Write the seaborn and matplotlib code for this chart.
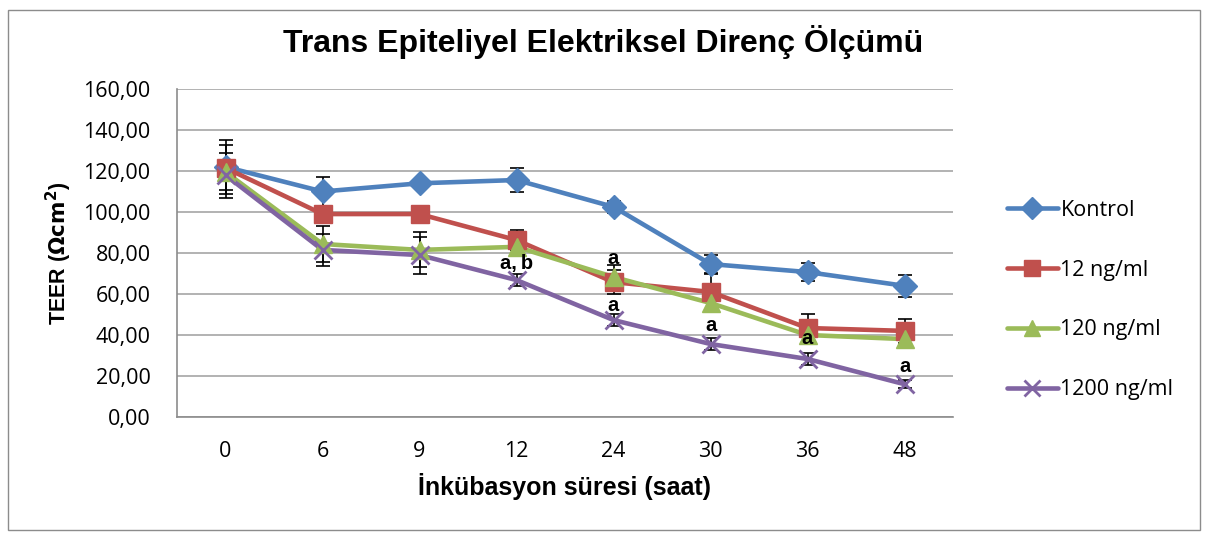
import numpy as np
import pandas as pd
import seaborn as sns
import matplotlib.pyplot as plt
from matplotlib.patches import Rectangle

# Incubation times (hours) and TEER readings per treatment group
hours = ["0", "6", "9", "12", "24", "30", "36", "48"]
groups = ["Kontrol", "12 ng/ml", "120 ng/ml", "1200 ng/ml"]

kontrol = [122.0, 110.0, 114.0, 115.6, 102.5, 74.6, 70.7, 64.0]
ng12 = [121.5, 99.0, 99.0, 86.3, 65.8, 61.0, 43.4, 42.0]
ng120 = [119.5, 84.4, 81.5, 83.0, 68.3, 55.6, 40.0, 38.0]
ng1200 = [118.0, 81.5, 79.0, 66.8, 47.3, 35.6, 28.3, 16.0]

kontrol_err = [13.0, 7.0, 0.0, 6.0, 3.0, 4.5, 4.5, 5.5]
ng12_err = [11.0, 0.0, 0.0, 5.0, 6.0, 9.0, 7.0, 6.0]
ng120_err = [0.0, 9.0, 8.5, 0.0, 6.0, 0.0, 0.0, 0.0]
ng1200_err = [11.0, 8.0, 9.0, 3.0, 3.0, 3.0, 3.0, 2.0]

# Significance letters: (time index, y value, text)
sig_pos = [3, 4, 4, 5, 6, 7]
sig_y = [75.0, 77.5, 54.5, 44.5, 38.5, 24.5]
sig_txt = ["a,\u2009b", "a", "a", "a", "a", "a"]

values = [kontrol, ng12, ng120, ng1200]
errors = [kontrol_err, ng12_err, ng120_err, ng1200_err]

colors = ["#4F81BD", "#C0504D", "#9BBB59", "#8064A2"]
markers = ["D", "s", "^", "x"]
msizes = [12, 13, 13, 13]

rows = []
for g, vals in zip(groups, values):
    for i, v in enumerate(vals):
        rows.append({"pos": i, "TEER": v, "group": g})
df = pd.DataFrame(rows)

sns.set_theme(style="white")
plt.rcParams["font.family"] = ["Open Sans", "DejaVu Sans"]
plt.rcParams["text.color"] = "black"
plt.rcParams["axes.labelcolor"] = "black"
plt.rcParams["xtick.color"] = "black"
plt.rcParams["ytick.color"] = "black"

fig = plt.figure(figsize=(12.09, 5.4), dpi=100)
ax = fig.add_axes([177 / 1209, 1 - 417 / 540, (953 - 177) / 1209, (417 - 89) / 540])

# frame around the whole chart
fig.patches.append(Rectangle((8 / 1209, 10 / 540), 1192 / 1209, 520 / 540,
                             transform=fig.transFigure, fill=False,
                             edgecolor="#8c8c8c", linewidth=1.0))

# error bars
for vals, errs in zip(values, errors):
    e = np.array(errs)
    mask = e > 0
    ax.errorbar(np.arange(len(vals))[mask], np.array(vals)[mask], yerr=e[mask],
                fmt="none", ecolor="black", elinewidth=1.2, capsize=5,
                capthick=1.2, zorder=2)

sns.lineplot(data=df, x="pos", y="TEER", hue="group", hue_order=groups,
             palette=colors, linewidth=3.3, legend=False, ax=ax, zorder=3)
for g, c, m, s in zip(groups, colors, markers, msizes):
    sub = df[df["group"] == g]
    ax.plot(sub["pos"], sub["TEER"], linestyle="none", marker=m, markersize=s,
            color=c, markeredgecolor=c, markeredgewidth=2.0 if m == "x" else 1.0,
            zorder=4)

for p, y, t in zip(sig_pos, sig_y, sig_txt):
    ax.text(p, y, t, ha="center", va="center", fontsize=14.5, fontweight="bold",
            family=["Liberation Sans", "DejaVu Sans"], color="black", zorder=6)

ax.set_xlim(-0.5, 7.5)
ax.set_ylim(0, 160)
ax.set_yticks(np.arange(0, 161, 20))
ax.set_yticklabels([f"{v:.2f}".replace(".", ",") for v in np.arange(0, 161, 20)],
                   fontsize=15.5)
ax.set_xticks(range(len(hours)))
ax.set_xticklabels(hours, fontsize=15.5)
ax.set_xticks(np.arange(-0.5, 8, 1), minor=True)
ax.tick_params(axis="x", which="major", length=0, pad=17)
ax.tick_params(axis="x", which="minor", length=6, color="#8c8c8c", direction="out")
ax.tick_params(axis="y", length=6, color="#8c8c8c", direction="out", pad=13)
ax.yaxis.grid(True, color="#a6a6a6", linewidth=1.2)
ax.xaxis.grid(False)
for side in ["top", "right"]:
    ax.spines[side].set_visible(False)
for side in ["left", "bottom"]:
    ax.spines[side].set_color("#8c8c8c")
    ax.spines[side].set_linewidth(1.2)

ax.set_xlabel("\u0130nk\u00fcbasyon s\u00fcresi (saat)", fontsize=18, fontweight="bold",
              family=["Liberation Sans", "DejaVu Sans"], labelpad=8)
ax.set_ylabel("TEER ($\\mathbf{\\Omega cm^2}$)", fontsize=15.5, fontweight="bold",
              family=["Liberation Sans", "DejaVu Sans"], labelpad=10)
ax.yaxis.set_label_coords(-103 / 776, 0.5)
fig.text(603 / 1209, 1 - 42 / 540, "Trans Epiteliyel Elektriksel Diren\u00e7 \u00d6l\u00e7\u00fcm\u00fc",
         ha="center", va="center", fontsize=23, fontweight="bold",
         family=["Liberation Sans", "DejaVu Sans"])

# legend
handles = [plt.Line2D([], [], color=c, marker=m, markersize=s - 1, linewidth=3.3,
                      markeredgewidth=2.0 if m == "x" else 1.0)
           for c, m, s in zip(colors, markers, msizes)]
fig.legend(handles, groups, loc="center left", bbox_to_anchor=(998 / 1209, 1 - 300 / 540),
           frameon=False, fontsize=15.5, handlelength=2.4, handletextpad=0.1,
           labelspacing=1.8, borderaxespad=0)

fig.savefig("out.png", dpi=100)
